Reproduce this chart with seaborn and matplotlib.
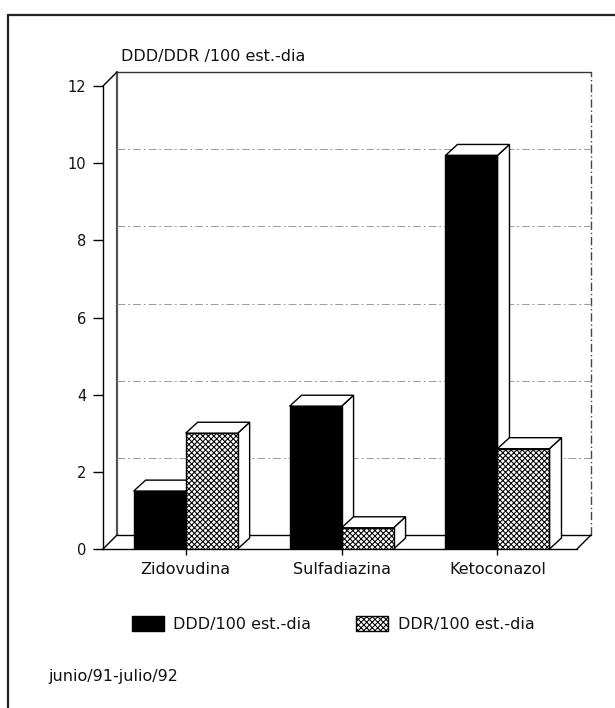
import matplotlib
matplotlib.use("Agg")
import matplotlib.pyplot as plt
from matplotlib.patches import Polygon, Patch
from matplotlib.lines import Line2D
import pandas as pd
import seaborn as sns

# Consumo de antiinfecciosos, junio/91 - julio/92
farmacos = ["Zidovudina", "Sulfadiazina", "Ketoconazol"]
ddd = [1.5, 3.7, 10.2]
ddr = [3.0, 0.55, 2.6]
series = ["DDD/100 est.-dia", "DDR/100 est.-dia"]
yticks = [0, 2, 4, 6, 8, 10, 12]

df = pd.DataFrame({
    "farmaco": farmacos * 2,
    "valor": ddd + ddr,
    "serie": [series[0]] * len(farmacos) + [series[1]] * len(farmacos),
})

sns.set_theme(style="white")
plt.rcParams["font.family"] = ["DejaVu Sans"]
plt.rcParams["hatch.linewidth"] = 0.75

W, H = 615, 708
fig = plt.figure(figsize=(W / 100, H / 100), dpi=100)
ax = fig.add_axes([103 / W, 1 - 549 / H, (577 - 103) / W, (549 - 86) / H])

sns.barplot(data=df, x="farmaco", y="valor", hue="serie",
            palette=["black", "white"], width=0.667, gap=0,
            edgecolor="black", linewidth=1.0, legend=False, ax=ax)

ax.set_xlim(-0.53, 2.51)
ax.set_ylim(0, 12)
ax.set_yticks(yticks)
ax.set_xlabel("")
ax.set_ylabel("")
ax.tick_params(axis="y", direction="out", length=7, width=1, labelsize=10.5,
               left=True, color="black", labelcolor="#111111", pad=5)
ax.tick_params(axis="x", direction="out", length=4, width=1, labelsize=11.5,
               bottom=True, color="black", labelcolor="#111111", pad=5)
for s in ["top", "right"]:
    ax.spines[s].set_visible(False)
for s in ["left", "bottom"]:
    ax.spines[s].set_color("black")
    ax.spines[s].set_linewidth(1.0)

# pixel -> data conversion for the depth offsets
fig.canvas.draw()
p0 = ax.transData.transform((0, 0))
p1 = ax.transData.transform((1, 1))
pxx = p1[0] - p0[0]
pxy = p1[1] - p0[1]

def depth(dx_px, dy_px):
    return dx_px / pxx, dy_px / pxy

x0, x1 = ax.get_xlim()
y0, y1 = ax.get_ylim()

# back wall, side wall and floor
wdx, wdy = depth(14, 14)
wall_kw = dict(transform=ax.transData, clip_on=False, zorder=0.6)
ax.add_line(Line2D([x0 + wdx, x0 + wdx], [y0 + wdy, y1 + wdy], color="#555555", lw=1.6, **wall_kw))
ax.add_line(Line2D([x0 + wdx, x1 + wdx], [y1 + wdy, y1 + wdy], color="#333333", lw=1.0, **wall_kw))
ax.add_line(Line2D([x1 + wdx, x1 + wdx], [y0 + wdy, y1 + wdy], color="#444444", lw=1.0,
                   ls=(0, (6, 2, 1, 2)), **wall_kw))
ax.add_line(Line2D([x0, x0 + wdx], [y1, y1 + wdy], color="black", lw=1.0, **wall_kw))
ax.add_line(Line2D([x0, x0 + wdx], [y0, y0 + wdy], color="black", lw=1.0, **wall_kw))
ax.add_line(Line2D([x0 + wdx, x1 + wdx], [y0 + wdy, y0 + wdy], color="black", lw=1.0, **wall_kw))
ax.add_line(Line2D([x1, x1 + wdx], [y0, y0 + wdy], color="black", lw=1.0, **wall_kw))
for t in yticks[1:-1]:
    ax.add_line(Line2D([x0 + wdx, x1 + wdx], [t + wdy, t + wdy], color="#9a9a9a", lw=0.7,
                       ls=(0, (8, 3, 2, 3)), **wall_kw))

# bars: hatch the DDR series and add top and side faces
bdx, bdy = depth(12, 11)
bars = sorted(ax.patches, key=lambda p: p.get_x())
for i, bar in enumerate(bars):
    z = 3 + i * 0.1
    bx, bw, bh = bar.get_x(), bar.get_width(), bar.get_height()
    white = bar.get_facecolor()[0] > 0.5
    if white:
        bar.set_hatch("xxxxxx")
    bar.set_zorder(z + 0.05)
    side = Polygon([(bx + bw, 0), (bx + bw + bdx, bdy), (bx + bw + bdx, bh + bdy), (bx + bw, bh)],
                   closed=True, facecolor="white", edgecolor="black", lw=1.0,
                   zorder=z, clip_on=False)
    top = Polygon([(bx, bh), (bx + bdx, bh + bdy), (bx + bw + bdx, bh + bdy), (bx + bw, bh)],
                  closed=True, facecolor="white", edgecolor="black", lw=1.0,
                  zorder=z, clip_on=False)
    ax.add_patch(side)
    ax.add_patch(top)

# legend
handles = [Patch(facecolor="black", edgecolor="black", label=series[0]),
           Patch(facecolor="white", edgecolor="black", hatch="xxxxxx", label=series[1])]
fig.legend(handles=handles, loc="center", bbox_to_anchor=(333 / W, 1 - 624 / H), ncol=2,
           frameon=False, fontsize=11.5, handlelength=2.0, handleheight=1.1,
           handletextpad=0.6, columnspacing=2.8, labelcolor="#111111")

# texts
fig.text(121 / W, 1 - 56 / H, "DDD/DDR /100 est.-dia", fontsize=11.5, va="center", ha="left",
         color="#111111")
fig.text(48 / W, 1 - 676 / H, "junio/91-julio/92", fontsize=11.5, va="center", ha="left",
         color="#111111")

# page frame
fig.add_artist(Line2D([8 / W, 1.0], [1 - 15 / H, 1 - 15 / H], transform=fig.transFigure,
                      color="#222222", lw=1.6))
fig.add_artist(Line2D([8 / W, 8 / W], [0, 1 - 15 / H], transform=fig.transFigure,
                      color="#222222", lw=1.6))

fig.savefig("out.png", dpi=100)
